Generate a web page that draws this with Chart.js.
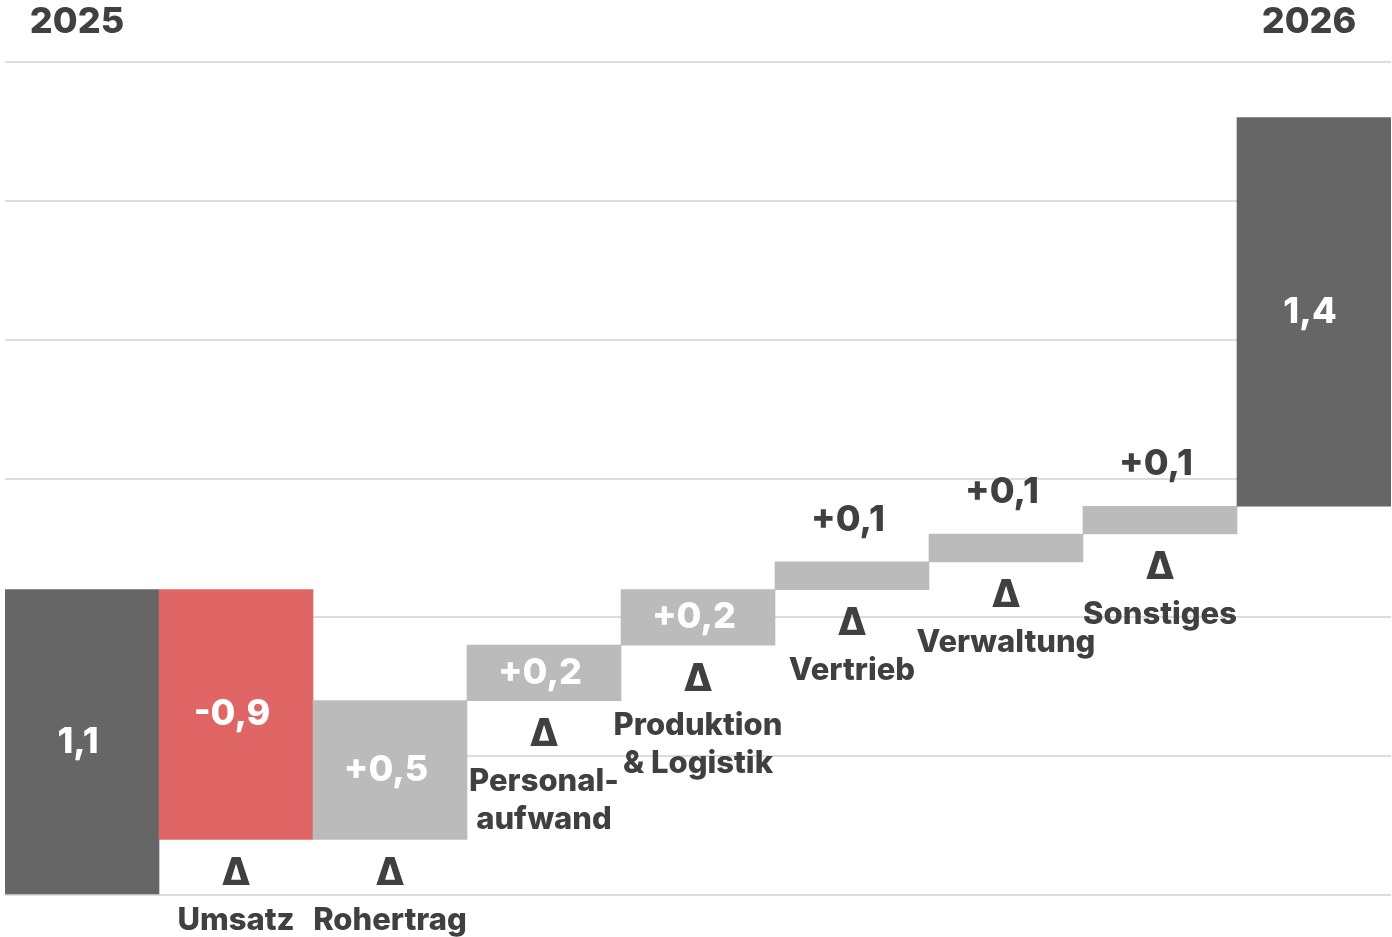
<!DOCTYPE html>
<html>
<head>
<meta charset="utf-8">
<script src="https://cdn.jsdelivr.net/npm/chart.js@4"></script>
<style>
  html, body { margin: 0; padding: 0; background: #fff; }
  #wrap { width: 1392px; height: 937px; position: relative; }
</style>
</head>
<body>
<div id="wrap"><canvas id="myChart" width="1392" height="937"></canvas></div>
<script>
// waterfall: 2025 -> Δ steps -> 2026
const categories = ['2025', 'Umsatz', 'Rohertrag', 'Personal-\naufwand', 'Produktion\n& Logistik', 'Vertrieb', 'Verwaltung', 'Sonstiges', '2026']
const values = [1.1, -0.9, 0.5, 0.2, 0.2, 0.1, 0.1, 0.1, 1.4]
const isTotal = [true, false, false, false, false, false, false, false, true]
const yTicks = [0, 0.5, 1, 1.5, 2, 2.5, 3]

const FONT = 'Inter, "Noto Sans", sans-serif'
const TEXT = '#404040'

// floating bars stacked on the running total
let run = 0
const ranges = values.map(v => {
    const r = [run, run + v]
    run += v
    return r
})

const colors = values.map((v, i) => isTotal[i] ? '#666666' : (v < 0 ? '#e06666' : '#bbbbbb'))

const fmt = (v, total) => {
    const s = Math.abs(v).toFixed(1).replace('.', ',')
    if (total) return s
    return (v < 0 ? '-' : '+') + s
}

const labelPlugin = {
    id: 'waterfallLabels',
    afterDatasetsDraw(chart) {
        const ctx = chart.ctx
        const meta = chart.getDatasetMeta(0)
        ctx.save()
        ctx.textAlign = 'center'
        ctx.textBaseline = 'middle'
        meta.data.forEach((bar, i) => {
            const top = Math.min(bar.y, bar.base)
            const bottom = Math.max(bar.y, bar.base)
            const h = bottom - top
            const text = fmt(values[i], isTotal[i])

            ctx.font = '800 36px ' + FONT
            if (h > 40) {
                ctx.fillStyle = '#ffffff'
                ctx.fillText(text, bar.x - 4, top + h / 2)
            } else {
                ctx.fillStyle = TEXT
                ctx.fillText(text, bar.x - 4, top - 42)
            }

            if (isTotal[i]) {
                ctx.fillStyle = TEXT
                ctx.font = '800 36px ' + FONT
                ctx.fillText(categories[i], bar.x - 5, 22)
            } else {
                ctx.fillStyle = TEXT
                ctx.font = '800 38px ' + FONT
                ctx.fillText('Δ', bar.x, bottom + 34)
                ctx.font = '800 31px ' + FONT
                categories[i].split('\n').forEach((line, k) => {
                    ctx.fillText(line, bar.x, bottom + 81 + k * 38)
                })
            }
        })
        ctx.restore()
    }
}

new Chart(document.getElementById('myChart'), {
    type: 'bar',
    data: {
        labels: categories,
        datasets: [{
            data: ranges,
            backgroundColor: colors,
            borderWidth: 0,
            borderSkipped: false,
            barPercentage: 1,
            categoryPercentage: 1,
        }]
    },
    options: {
        responsive: false,
        animation: false,
        layout: { padding: { left: 5, right: 1, top: 62, bottom: 42 } },
        plugins: { legend: { display: false }, tooltip: { enabled: false } },
        scales: {
            x: { display: false },
            y: {
                min: 0,
                max: 3,
                afterBuildTicks: s => { s.ticks = yTicks.map(v => ({ value: v })) },
                afterFit: s => { s.width = 0 },
                ticks: { display: false },
                grid: { color: '#dddddd', lineWidth: 2, drawTicks: false },
                border: { display: false },
            }
        }
    },
    plugins: [labelPlugin]
})
</script>
</body>
</html>
